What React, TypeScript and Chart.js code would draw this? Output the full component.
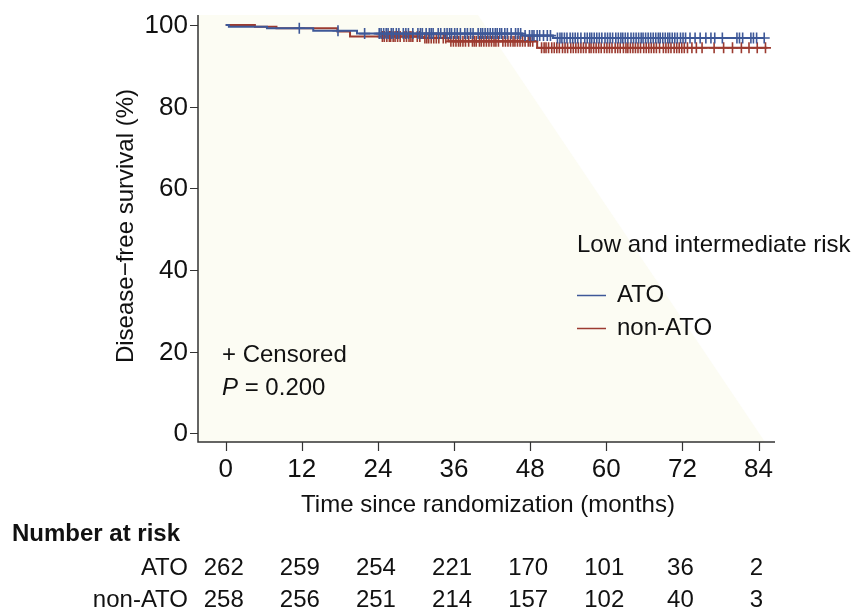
import React, { useEffect, useRef } from "react";
import { Chart, registerables } from "chart.js";
Chart.register(...registerables);

// ---- data ----
const xTicks = [0, 12, 24, 36, 48, 60, 72, 84];
const yTicks = [0, 20, 40, 60, 80, 100];

const atoTimes = [0, 0.5, 6.5, 13.8, 20.7, 46.7, 51.6, 84.9];
const atoSurv = [100, 99.6, 99.2, 98.6, 97.9, 97.4, 96.8, 96.8];
const nonTimes = [0, 4.6, 8.0, 17.6, 19.6, 30.9, 35.1, 49.1, 85.4];
const nonSurv = [100, 99.6, 99.2, 98.4, 97.2, 96.8, 96.0, 94.4, 94.4];

const atoCensor = [
  11.6, 17.7, 21.9, 24.2, 24.5, 24.9, 25.3, 25.6, 26.1, 26.4, 26.9, 27.3, 28.0, 28.4, 28.8,
  29.5, 30.3, 30.7, 31.0, 31.6, 32.1, 32.4, 32.7, 33.5, 33.9, 34.5, 34.9, 35.3, 35.6, 36.1,
  36.5, 37.0, 37.7, 38.1, 38.6, 39.0, 39.8, 40.2, 40.5, 40.9, 41.3, 41.7, 42.1, 42.5, 42.8,
  43.2, 43.5, 44.0, 44.4, 45.0, 45.7, 46.1, 46.5, 47.2, 47.9, 48.3, 48.6, 49.1, 49.5, 50.1,
  50.7, 51.2, 52.3, 52.7, 53.0, 53.4, 53.8, 54.3, 54.7, 55.1, 55.5, 56.0, 56.6, 57.0, 57.4,
  57.7, 58.1, 58.5, 58.9, 59.3, 59.8, 60.2, 60.6, 61.0, 61.5, 61.9, 62.3, 62.6, 63.0, 63.4,
  63.9, 64.3, 64.7, 65.1, 65.5, 65.8, 66.2, 66.6, 67.0, 67.4, 67.8, 68.2, 68.5, 68.9, 69.3,
  69.7, 70.0, 70.4, 70.8, 71.2, 71.7, 72.1, 72.5, 73.2, 74.0, 74.8, 75.7, 76.5, 77.1, 78.3,
  80.6, 81.0, 81.5, 82.8, 83.2, 83.7, 84.9,
];
const nonCensor = [
  24.7, 25.0, 25.4, 25.8, 26.0, 26.4, 26.7, 27.1, 27.5, 28.1, 28.5, 28.9, 29.2, 29.5, 30.2,
  30.6, 31.4, 31.7, 32.0, 32.4, 32.8, 33.2, 33.6, 34.3, 34.7, 35.5, 35.9, 36.3, 36.7, 37.0,
  37.4, 37.8, 38.3, 38.9, 39.2, 39.5, 40.0, 40.3, 40.7, 41.1, 41.5, 41.9, 42.3, 42.6, 43.0,
  43.7, 44.1, 44.5, 44.9, 45.3, 45.6, 46.0, 46.4, 46.8, 47.2, 47.7, 48.0, 48.4, 49.8, 50.2,
  50.5, 50.9, 51.4, 51.8, 52.2, 52.6, 53.1, 53.5, 53.9, 54.4, 54.8, 55.2, 55.6, 56.0, 56.4,
  56.8, 57.3, 57.6, 58.0, 58.4, 58.8, 59.2, 59.7, 60.1, 60.5, 60.9, 61.4, 61.8, 62.2, 62.7,
  63.1, 63.4, 63.8, 64.2, 64.6, 65.0, 65.4, 65.9, 66.3, 66.7, 67.1, 67.5, 67.9, 68.4, 69.0,
  69.4, 69.8, 70.2, 70.7, 71.1, 71.5, 71.9, 72.3, 72.8, 73.5, 74.2, 75.1, 77.0, 78.5, 79.9,
  81.3, 82.5, 83.8, 85.1,
];

const riskAto = [262, 259, 254, 221, 170, 101, 36, 2];
const riskNon = [258, 256, 251, 214, 157, 102, 40, 3];

const BLUE = "#3e5898";
const RED = "#9c3b30";
const FONT = '"Liberation Sans", Arial, Helvetica, sans-serif';

function stepValue(times: number[], surv: number[], t: number) {
  let v = surv[0];
  for (let i = 0; i < times.length; i++) if (times[i] <= t) v = surv[i];
  return v;
}

const decor = {
  id: "decor",
  beforeDraw(chart: any) {
    const { ctx, chartArea: a, width, height } = chart;
    ctx.save();
    ctx.fillStyle = "#ffffff";
    ctx.fillRect(0, 0, width, height);
    ctx.fillStyle = "#fcfcf3";
    ctx.beginPath();
    ctx.moveTo(a.left, a.top);
    ctx.lineTo(478, a.top);
    ctx.lineTo(a.right - 10, a.bottom);
    ctx.lineTo(a.left, a.bottom);
    ctx.closePath();
    ctx.fill();
    ctx.restore();
  },
  beforeDatasetsDraw(chart: any) {
    const { ctx, chartArea: a, scales } = chart;
    const xs = scales.x, ys = scales.y;
    ctx.save();
    ctx.strokeStyle = "#333333";
    ctx.lineWidth = 1.5;
    ctx.beginPath();
    ctx.moveTo(a.left, a.top);
    ctx.lineTo(a.left, a.bottom);
    ctx.lineTo(a.right, a.bottom);
    ctx.stroke();
    ctx.lineWidth = 1.2;
    ctx.beginPath();
    for (const v of yTicks) {
      const y = Math.round(ys.getPixelForValue(v)) + 0.5;
      ctx.moveTo(a.left - 8, y);
      ctx.lineTo(a.left, y);
    }
    for (const v of xTicks) {
      const x = Math.round(xs.getPixelForValue(v)) + 0.5;
      ctx.moveTo(x, a.bottom);
      ctx.lineTo(x, a.bottom + 9);
    }
    ctx.stroke();
    ctx.restore();
  },
  afterDraw(chart: any) {
    const { ctx, chartArea: a, scales } = chart;
    const xs = scales.x, ys = scales.y;
    ctx.save();
    ctx.fillStyle = "#111111";
    ctx.textBaseline = "middle";
    // tick labels
    ctx.font = `26px ${FONT}`;
    ctx.textAlign = "right";
    for (const v of yTicks) ctx.fillText(String(v), a.left - 10, ys.getPixelForValue(v) + 1);
    ctx.textAlign = "center";
    for (const v of xTicks) ctx.fillText(String(v), xs.getPixelForValue(v), 470);
    // axis titles
    ctx.font = `24px ${FONT}`;
    ctx.fillText("Time since randomization (months)", 488, 505);
    ctx.save();
    ctx.translate(126, 226);
    ctx.rotate(-Math.PI / 2);
    ctx.fillText("Disease\u2212free survival (%)", 0, 0);
    ctx.restore();
    // risk table
    ctx.textAlign = "left";
    ctx.font = `bold 24px ${FONT}`;
    ctx.fillText("Number at risk", 12, 534);
    ctx.font = `24px ${FONT}`;
    ctx.textAlign = "right";
    ctx.fillText("ATO", 188, 568);
    ctx.fillText("non-ATO", 188, 600);
    ctx.textAlign = "center";
    xTicks.forEach((t, i) => {
      const x = xs.getPixelForValue(t) - 2;
      ctx.fillText(String(riskAto[i]), x, 568);
      ctx.fillText(String(riskNon[i]), x, 600);
    });
    // legend
    ctx.textAlign = "left";
    ctx.fillText("Low and intermediate risk", 577, 245);
    ctx.lineWidth = 1.5;
    ctx.strokeStyle = BLUE;
    ctx.beginPath();
    ctx.moveTo(577, 295.5);
    ctx.lineTo(606, 295.5);
    ctx.stroke();
    ctx.strokeStyle = RED;
    ctx.beginPath();
    ctx.moveTo(577, 328.5);
    ctx.lineTo(606, 328.5);
    ctx.stroke();
    ctx.fillText("ATO", 617, 295);
    ctx.fillText("non-ATO", 617, 328);
    // annotations
    ctx.fillText("+ Censored", 222, 355);
    ctx.font = `italic 24px ${FONT}`;
    ctx.fillText("P", 222, 388);
    const pw = ctx.measureText("P").width;
    ctx.font = `24px ${FONT}`;
    ctx.fillText(" = 0.200", 222 + pw, 388);
    ctx.restore();
  },
};

export default function App() {
  const ref = useRef<HTMLCanvasElement | null>(null);
  useEffect(() => {
    document.body.style.margin = "0";
    const canvas = ref.current!;
    const chart = new Chart(canvas, {
      type: "line",
      data: {
        datasets: [
          {
            label: "ATO censored",
            data: atoCensor.map((t) => ({ x: t, y: stepValue(atoTimes, atoSurv, t) })),
            showLine: false,
            pointStyle: "cross",
            pointRadius: 5.5,
            pointBorderWidth: 1.6,
            borderColor: BLUE,
            backgroundColor: BLUE,
          },
          {
            label: "non-ATO censored",
            data: nonCensor.map((t) => ({ x: t, y: stepValue(nonTimes, nonSurv, t) })),
            showLine: false,
            pointStyle: "cross",
            pointRadius: 5.5,
            pointBorderWidth: 1.6,
            borderColor: RED,
            backgroundColor: RED,
          },
          {
            label: "ATO",
            data: atoTimes.map((t, i) => ({ x: t, y: atoSurv[i] })),
            stepped: "before",
            borderColor: BLUE,
            borderWidth: 2,
            pointRadius: 0,
            fill: false,
          },
          {
            label: "non-ATO",
            data: nonTimes.map((t, i) => ({ x: t, y: nonSurv[i] })),
            stepped: "before",
            borderColor: RED,
            borderWidth: 2,
            pointRadius: 0,
            fill: false,
          },
        ],
      },
      options: {
        responsive: false,
        animation: false,
        layout: { padding: { left: 198, right: 86, top: 15, bottom: 170 } },
        scales: {
          x: { type: "linear", min: -4.37, max: 86.6, display: false },
          y: { type: "linear", min: -2.13, max: 102.45, display: false },
        },
        plugins: { legend: { display: false }, tooltip: { enabled: false } },
      },
      plugins: [decor],
    } as any);
    return () => chart.destroy();
  }, []);
  return <canvas ref={ref} width={861} height={612} style={{ display: "block" }} />;
}
